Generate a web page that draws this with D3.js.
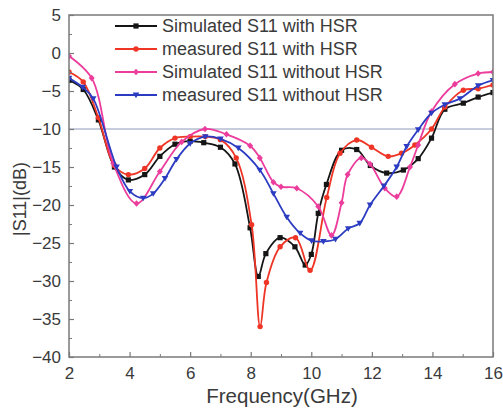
<!DOCTYPE html>
<html><head><meta charset="utf-8">
<script src="https://cdn.jsdelivr.net/npm/d3@7"></script>
<style>body{margin:0;background:#fff}svg{display:block}</style>
</head><body>
<script>
const xTicks = [2,4,6,8,10,12,14,16];
const yTicks = [5,0,-5,-10,-15,-20,-25,-30,-35,-40];
const seriesNames = ["Simulated S11 with HSR","measured S11 with HSR","Simulated S11 without HSR","measured S11 without HSR"];
const seriesColors = ["#151515","#ee3526","#ec3d9c","#2c3cc2"];
const seriesMarkers = ["square","circle","diamond","triangle"];

const simHsrF = [2.0,2.47,2.97,3.5,3.96,4.5,5.0,5.5,6.0,6.45,7.0,7.48,7.98,8.25,8.5,8.97,9.46,9.8,10.0,10.23,10.5,11.0,11.5,11.95,12.49,13.04,13.53,13.97,14.41,15.02,15.51,16.0];
const simHsrV = [-3.6,-4.8,-8.8,-15.0,-16.7,-16.0,-13.6,-12.0,-11.6,-11.8,-12.4,-14.6,-23.0,-29.4,-26.4,-24.3,-25.5,-27.9,-26.5,-21.1,-17.3,-12.8,-12.7,-14.8,-15.8,-15.4,-13.9,-11.2,-7.4,-6.6,-5.8,-5.2];

const measHsrF = [2.0,2.47,2.97,3.5,3.96,4.5,5.0,5.5,6.0,6.5,7.0,7.52,8.03,8.31,8.52,8.97,9.48,9.96,10.51,10.95,11.5,11.99,12.54,12.98,13.42,13.97,14.41,15.02,15.51,16.0];
const measHsrV = [-2.5,-3.8,-8.5,-14.8,-16.0,-15.2,-12.5,-11.2,-11.0,-11.0,-11.4,-13.8,-22.6,-36.0,-30.2,-25.5,-24.3,-28.6,-19.0,-13.2,-11.45,-12.4,-13.6,-13.2,-12.1,-10.0,-7.1,-4.9,-4.7,-4.2];

const simNoF = [2.0,2.75,3.46,4.23,5.0,5.72,6.49,7.2,7.98,8.3,8.75,9.0,9.52,10.23,10.67,11.0,11.2,11.65,11.94,12.43,12.82,13.26,13.53,13.97,14.74,15.51,16.0];
const simNoV = [-0.4,-3.3,-14.5,-19.8,-15.6,-11.7,-10.0,-10.7,-12.2,-13.8,-17.0,-17.6,-17.8,-20.2,-24.0,-19.7,-16.0,-13.8,-14.6,-17.8,-18.9,-15.0,-12.1,-7.7,-4.1,-2.7,-2.5];

const measNoF = [2.0,2.45,2.8,3.57,4.01,4.45,4.78,5.17,5.55,6.0,6.5,7.0,7.59,8.3,8.75,9.19,9.63,10.01,10.4,10.8,11.22,11.6,11.94,12.4,12.82,13.15,13.53,13.97,14.41,14.91,15.51,16.0];
const measNoV = [-3.3,-4.5,-6.0,-15.0,-18.2,-19.1,-18.5,-16.5,-14.0,-11.9,-11.0,-11.3,-12.5,-15.4,-18.5,-21.6,-23.7,-24.7,-24.8,-24.5,-23.1,-22.4,-20.0,-17.5,-15.0,-12.3,-10.1,-7.9,-6.8,-6.0,-4.3,-3.6];

const refLine = -10;

const W = 503, H = 411;
const m = {l:69, r:10, t:15, b:54};
const svg = d3.select("body").append("svg").attr("width",W).attr("height",H);
const x = d3.scaleLinear().domain([2,16]).range([m.l, W-m.r]);
const y = d3.scaleLinear().domain([-40,5]).range([H-m.b, m.t]);
const font = "Liberation Sans, Arial, sans-serif";

// reference line
svg.append("line").attr("x1",x(2)).attr("x2",x(16)).attr("y1",y(refLine)).attr("y2",y(refLine))
  .attr("stroke","#8e9ab8").attr("stroke-width",1);

const series = [
  {f:simHsrF, v:simHsrV},
  {f:measHsrF, v:measHsrV},
  {f:simNoF, v:simNoV},
  {f:measNoF, v:measNoV}
];

const line = d3.line().x(d=>x(d[0])).y(d=>y(d[1])).curve(d3.curveCatmullRom.alpha(0.5));

function marker(g, type, cx, cy, color){
  if(type==="square") g.append("rect").attr("x",cx-2.6).attr("y",cy-2.6).attr("width",5.2).attr("height",5.2).attr("fill",color);
  else if(type==="circle") g.append("circle").attr("cx",cx).attr("cy",cy).attr("r",2.7).attr("fill",color);
  else if(type==="diamond") g.append("path").attr("d",`M${cx},${cy-3.3}L${cx+3},${cy}L${cx},${cy+3.3}L${cx-3},${cy}Z`).attr("fill",color);
  else g.append("path").attr("d",`M${cx-3.3},${cy-2.4}L${cx+3.3},${cy-2.4}L${cx},${cy+3.2}Z`).attr("fill",color);
}

svg.append("clipPath").attr("id","c").append("rect").attr("x",x(2)).attr("y",y(5)).attr("width",x(16)-x(2)).attr("height",y(-40)-y(5));

series.forEach((s,i)=>{
  const pts = s.f.map((f,j)=>[f,s.v[j]]);
  const g = svg.append("g").attr("clip-path","url(#c)");
  g.append("path").attr("d",line(pts)).attr("fill","none").attr("stroke",seriesColors[i]).attr("stroke-width",1.8);
  pts.forEach(p=>marker(g, seriesMarkers[i], x(p[0]), y(p[1]), seriesColors[i]));
});

// axes box
const axCol = "#7a7a7a";
svg.append("rect").attr("x",x(2)).attr("y",y(5)).attr("width",x(16)-x(2)).attr("height",y(-40)-y(5))
  .attr("fill","none").attr("stroke",axCol).attr("stroke-width",1.5);

const xAxis = d3.axisBottom(x).tickValues(xTicks).tickSize(-5).tickPadding(10).tickFormat(d3.format("d"));
const gx = svg.append("g").attr("transform",`translate(0,${y(-40)})`).call(xAxis);
gx.select(".domain").remove();
gx.selectAll("line").attr("stroke",axCol).attr("stroke-width",1.2);
gx.selectAll("text").attr("font-family",font).attr("font-size",17).attr("fill","#3a3a3a");
const gxm = svg.append("g").attr("transform",`translate(0,${y(-40)})`).call(d3.axisBottom(x).tickValues(d3.range(3,16,2)).tickSize(-3).tickFormat(""));
gxm.select(".domain").remove(); gxm.selectAll("line").attr("stroke",axCol);

const yAxis = d3.axisLeft(y).tickValues(yTicks).tickSize(-5).tickPadding(8).tickFormat(d3.format("d"));
const gy = svg.append("g").attr("transform",`translate(${x(2)},0)`).call(yAxis);
gy.select(".domain").remove();
gy.selectAll("line").attr("stroke",axCol).attr("stroke-width",1.2);
gy.selectAll("text").attr("font-family",font).attr("font-size",17).attr("fill","#3a3a3a");
const gym = svg.append("g").attr("transform",`translate(${x(2)},0)`).call(d3.axisLeft(y).tickValues(d3.range(-37.5,5,5)).tickSize(-3).tickFormat(""));
gym.select(".domain").remove(); gym.selectAll("line").attr("stroke",axCol);

svg.append("text").attr("x",282).attr("y",403).attr("text-anchor","middle")
  .attr("font-family",font).attr("font-size",20.5).attr("fill","#3a3a3a").text("Frequency(GHz)");
svg.append("text").attr("transform",`translate(26,199) rotate(-90)`).attr("text-anchor","middle")
  .attr("font-family",font).attr("font-size",18).attr("fill","#3a3a3a").text("|S11|(dB)");

// legend
const legY = [26,49,72,95];
seriesNames.forEach((n,i)=>{
  const g = svg.append("g");
  g.append("line").attr("x1",115).attr("x2",157).attr("y1",legY[i]).attr("y2",legY[i]).attr("stroke",seriesColors[i]).attr("stroke-width",2);
  marker(g, seriesMarkers[i], 136, legY[i], seriesColors[i]);
  g.append("text").attr("x",162).attr("y",legY[i]).attr("dy","0.35em").attr("font-family",font).attr("font-size",18).attr("fill","#3a3a3a").text(n);
});
</script>
</body></html>
